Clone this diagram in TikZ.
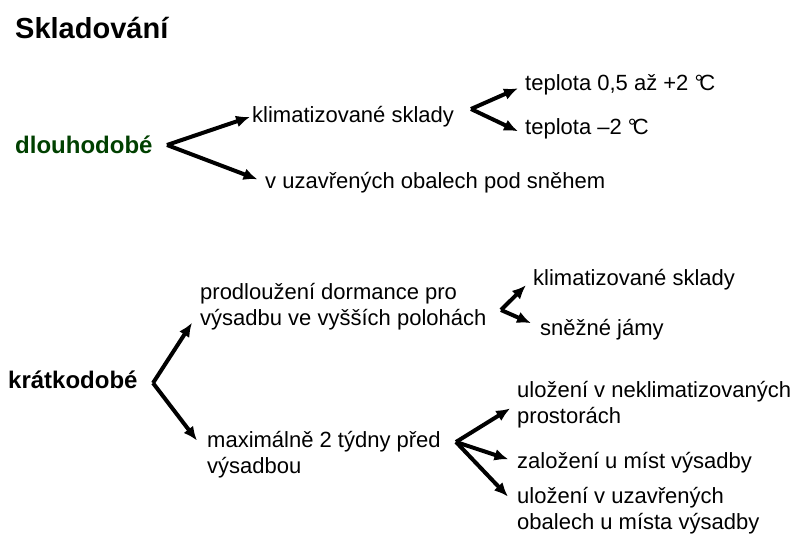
\documentclass[tikz,border=0pt]{standalone}
\usepackage{fontspec}
\setmainfont{Liberation Sans}
\usetikzlibrary{arrows.meta}
\definecolor{darkgreen}{RGB}{0,64,0}
\newcommand{\degC}{°\kern-.18em C}
\begin{document}
\begin{tikzpicture}[x=1pt,y=-1pt,
  txt/.style={inner sep=0pt,anchor=base west,align=left,font=\fontsize{22}{26}\selectfont},
  head/.style={inner sep=0pt,anchor=base west,font=\fontsize{24}{28}\selectfont\bfseries},
  arr/.style={line width=4pt,-{Latex[length=14pt,width=12pt]}}]
\useasboundingbox (0,0) rectangle (798,535);
% title
\node [inner sep=0pt,anchor=base west,font=\fontsize{29}{34}\selectfont\bfseries] (title) at (15,39) {Skladování};
% long-term storage
\node [head,text=darkgreen] (dl) at (15,153) {dlouhodobé};
\node [txt] (kl) at (252,122) {klimatizované sklady};
\node [txt] (t1) at (525,90) {teplota 0,5 až +2 \degC};
\node [txt] (t2) at (525,134) {teplota –2 \degC};
\node [txt] (vu) at (265,188) {v uzavřených obalech pod sněhem};
\coordinate (dl-fork) at (167,145);
\coordinate (kl-fork) at (471,109);
\draw [arr,shorten >=2pt] (dl-fork) -- (kl.west);
\draw [arr,shorten >=8pt] (dl-fork) -- (vu.west);
\draw [arr] (kl-fork) -- ([shift={(-7pt,-4pt)}]t1.west);
\draw [arr] (kl-fork) -- ([shift={(-7pt,-3pt)}]t2.west);
% short-term storage (multi-line nodes sit on their last baseline)
\node [head] (kr) at (8,388) {krátkodobé};
\node [txt] (pd) at (200,325) {prodloužení dormance pro\\výsadbu ve vyšších polohách};
\node [txt] (ks) at (533,285) {klimatizované sklady};
\node [txt] (sj) at (540,335) {sněžné jámy};
\node [txt] (mx) at (207,473) {maximálně 2 týdny před\\výsadbou};
\node [txt] (un) at (517,423) {uložení v neklimatizovaných\\prostorách};
\node [txt] (zl) at (517,468) {založení u míst výsadby};
\node [txt] (uu) at (517,529) {uložení v uzavřených\\obalech u místa výsadby};
\coordinate (kr-fork) at (153,383);
\coordinate (pd-fork) at (501,310);
\coordinate (mx-fork) at (456,442);
\draw [arr] (kr-fork) -- ([shift={(-8pt,7pt)}]pd.south west);
\draw [arr] (kr-fork) -- ([shift={(-10pt,-10pt)}]mx.north west);
\draw [arr] (pd-fork) -- ([shift={(-7pt,-6pt)}]ks.west);
\draw [arr] (pd-fork) -- ([shift={(-9pt,6pt)}]sj.west);
\draw [arr,shorten >=8pt] (mx-fork) -- (un.west);
\draw [arr,shorten >=9pt] (mx-fork) -- (zl.west);
\draw [arr] (mx-fork) -- ([shift={(-9pt,-10pt)}]uu.north west);
\end{tikzpicture}
\end{document}
